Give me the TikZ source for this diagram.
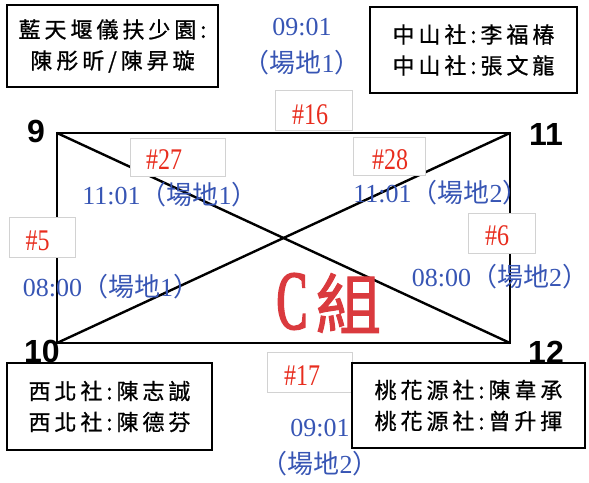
\documentclass[tikz,border=0pt]{standalone}
\usepackage{fontspec}
\setmainfont{Liberation Serif}
\newfontfamily\cjk{Noto Sans CJK TC}
\newfontfamily\cjkwide[LetterSpace=18, FakeBold=0.8]{Noto Sans CJK TC}
\newfontfamily\cjktitle[FakeBold=1.5]{Noto Sans CJK TC}
\newfontfamily\numfont[FakeStretch=0.8]{Liberation Serif}
\newfontfamily\titlefont[FakeStretch=0.55, FakeBold=2]{Liberation Serif}
\newfontfamily\cornerfont{Liberation Sans}
\usetikzlibrary{positioning}

\definecolor{slotblue}{RGB}{55,85,180}
\definecolor{gamered}{RGB}{232,45,30}
\definecolor{titlered}{RGB}{218,58,62}

\newcommand{\court}[1]{{\cjk （場地}#1{\cjk ）}}

\begin{document}
\begin{tikzpicture}[x=1pt, y=-1pt,
  team/.style={draw, rectangle, line width=1.5pt, fill=white, align=center, font=\fontsize{22}{31}\selectfont\cjkwide},
  slot/.style={text=slotblue, align=center, font=\fontsize{26}{37}\selectfont},
  gamebox/.style={draw=gray!35, rectangle, line width=0.8pt, fill=white},
  game/.style={text=gamered, font=\fontsize{30}{30}\selectfont\numfont},
  corner/.style={font=\fontsize{32}{32}\selectfont\cornerfont\bfseries}]
\useasboundingbox (0,0) rectangle (589,482);

\coordinate (c9) at (57,133);
\coordinate (c11) at (510,133);
\coordinate (c10) at (57,343);
\coordinate (c12) at (510,343);

% court lines
\draw [line width=2.6pt, line join=miter](c9)--(c11)--(c12)--(c10)--cycle;
\draw [line width=2.4pt](c9)--(c12);
\draw [line width=2.4pt](c10)--(c11);

% times
\node (t16) [slot] at (302,47) {09:01\\\court{1}};
\node (t27) [slot] at (170,195) {11:01\court{1}};
\node (t28) [slot] at (441,193) {11:01\court{2}};
\node (t5) [slot] at (111,287) {08:00\court{1}};
\node (t6) [slot] at (500,277) {08:00\court{2}};
\node (t17) [slot] at (320,448) {09:01\\\court{2}};

% game numbers
\node (box16) [gamebox, minimum width=77pt, minimum height=40pt] at (313.5,110) {};
\node (g16) [game] at (310,115) {\#16};
\node (box27) [gamebox, minimum width=95pt, minimum height=38pt] at (177.5,157) {};
\node (g27) [game] at (164,160) {\#27};
\node (box28) [gamebox, minimum width=72pt, minimum height=38pt] at (389,156) {};
\node (g28) [game] at (390,160) {\#28};
\node (box5) [gamebox, minimum width=66pt, minimum height=40pt] at (42,237) {};
\node (g5) [game] at (37.5,241) {\#5};
\node (box6) [gamebox, minimum width=67pt, minimum height=40pt] at (501.5,233) {};
\node (g6) [game] at (497,236) {\#6};
\node (box17) [gamebox, minimum width=85pt, minimum height=40pt] at (309.5,372) {};
\node (g17) [game] at (302,376) {\#17};

% players
\node (team9) [team, minimum width=211pt, minimum height=82pt] at (112.5,46) {藍天堰儀扶少園:\\陳彤昕/陳昇璇};
\node (team11) [team, minimum width=207pt, minimum height=86pt] at (473.5,50) {中山社:李福椿\\中山社:張文龍};
\node (team10) [team, minimum width=205pt, minimum height=87pt] at (109.5,406.5) {西北社:陳志誠\\西北社:陳德芬};
\node (team12) [team, minimum width=233pt, minimum height=85pt] at (468.5,405.5) {桃花源社:陳韋承\\桃花源社:曾升揮};

\node (n9) [corner] at (36,131) {9};
\node (n11) [corner] at (546,134) {11};
\node (n10) [corner] at (42,351) {10};
\node (n12) [corner] at (546,352) {12};

% group title
\node (title) [text=titlered] at (329,303) {\fontsize{84}{84}\selectfont\titlefont C\hspace{8pt}\cjktitle\fontsize{66}{66}\selectfont 組};
\end{tikzpicture}
\end{document}
